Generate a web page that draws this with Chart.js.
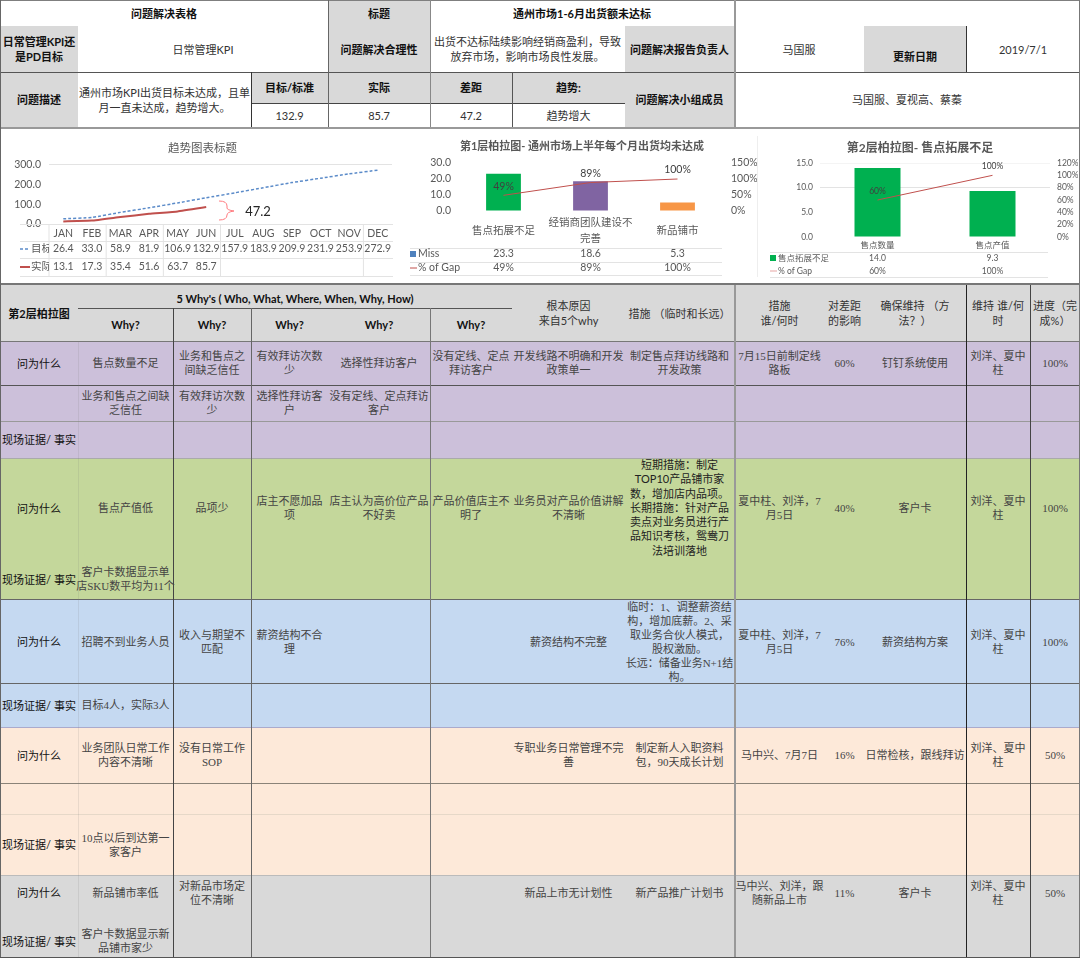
<!DOCTYPE html>
<html lang="zh">
<head>
<meta charset="utf-8">
<title>问题解决表格</title>
<script src="https://cdn.jsdelivr.net/npm/chart.js@4/dist/chart.umd.min.js"></script>
<style>
  html, body { margin: 0; padding: 0; background: #fff; }
  #page { position: relative; width: 1080px; height: 958px; overflow: hidden; background: #fff;
    font-family: "Lato", "Noto Sans CJK SC", sans-serif; color: #333; }
  .cell { position: absolute; display: flex; align-items: center; justify-content: center; text-align: center;
    white-space: pre; font-size: 11px; line-height: 15px; box-sizing: border-box; }
  .cell.b { font-weight: 700; color: #111; }
  .cell.body { font-family: "Liberation Serif", "Noto Sans CJK SC", serif; font-size: 11px; line-height: 14px; color: #444; }
  .cell.dark { color: #222; font-size: 11px; line-height: 14.3px; }
  .cell.side { color: #111; font-size: 11px; }
  .line { position: absolute; }
  canvas { position: absolute; top: 128px; }
</style>
</head>
<body>
<div id="page">
  <canvas id="trend-chart" width="380" height="155" style="left:13px"></canvas>
  <canvas id="pareto1-chart" width="354" height="155" style="left:405px"></canvas>
  <canvas id="pareto2-chart" width="316" height="155" style="left:762px"></canvas>
</div>
<script>
// trend chart
var MONTHS = ['JAN', 'FEB', 'MAR', 'APR', 'MAY', 'JUN', 'JUL', 'AUG', 'SEP', 'OCT', 'NOV', 'DEC'];
var TARGET = [26.4, 33.0, 58.9, 81.9, 106.9, 132.9, 157.9, 183.9, 209.9, 231.9, 253.9, 272.9];
var ACTUAL = [13.1, 17.3, 35.4, 51.6, 63.7, 85.7, null, null, null, null, null, null];

// first pareto
var P1_LABELS = ['售点拓展不足', ['经销商团队建设不', '完善'], '新品铺市'];
var P1_MISS = [23.3, 18.6, 5.3];
var P1_GAP = [49, 89, 100];
var P1_COLORS = ['#00B050', '#8064A2', '#F79646'];

// second pareto
var P2_LABELS = ['售点数量', '售点产值'];
var P2_MISS = [14.0, 9.3];
var P2_GAP = [60, 100];

var CHART_FONT = '"Lato", "Noto Sans CJK SC", sans-serif';
var TEXT_GREY = '#595959';

// grid columns of the lower table
var COLS = [78, 173, 251, 328, 430, 512, 625, 734, 825, 864, 966, 1030, 1080];

var EVIDENCE = '现场证据/ 事实';
var ASK = '问为什么';
var OWNER = '刘洋、夏中\n柱';

var ROW_PURPLE_1 = ['售点数量不足', '业务和售点之\n间缺乏信任', '有效拜访次数\n少', '选择性拜访客户', '没有定线、定点\n拜访客户', '开发线路不明确和开发\n政策单一', '制定售点拜访线路和\n开发政策', '7月15日前制定线\n路板', '60%', '钉钉系统使用', OWNER, '100%'];
var ROW_PURPLE_2 = ['业务和售点之间缺\n乏信任', '有效拜访次数\n少', '选择性拜访客\n户', '没有定线、定点拜访\n客户'];
var ROW_GREEN = ['售点产值低', '品项少', '店主不愿加品\n项', '店主认为高价位产品\n不好卖', '产品价值店主不\n明了', '业务员对产品价值讲解\n不清晰', '', '夏中柱、刘洋，7\n月5日', '40%', '客户卡', OWNER, '100%'];
var ROW_BLUE = ['招聘不到业务人员', '收入与期望不\n匹配', '薪资结构不合\n理', '', '', '薪资结构不完整', '临时：1、调整薪资结\n构，增加底薪。2、采\n取业务合伙人模式，\n股权激励。\n长远：储备业务N+1结\n构。', '夏中柱、刘洋，7\n月5日', '76%', '薪资结构方案', OWNER, '100%'];
var ROW_PEACH = ['业务团队日常工作\n内容不清晰', '没有日常工作\nSOP', '', '', '', '专职业务日常管理不完\n善', '制定新人入职资料\n包，90天成长计划', '马中兴、7月7日', '16%', '日常检核，跟线拜访', OWNER, '50%'];
var ROW_GREY = ['新品铺市率低', '对新品市场定\n位不清晰', '', '', '', '新品上市无计划性', '新产品推广计划书', '马中兴、刘洋，跟\n随新品上市', '11%', '客户卡', OWNER, '50%'];
var GREEN_MEASURE = '短期措施：制定\nTOP10产品铺市家\n数，增加店内品项。\n长期措施：针对产品\n卖点对业务员进行产\n品知识考核，鸳鸯刀\n法培训落地';

var page = document.getElementById('page');

function addBox(x, y, w, h, bg) {
  var d = document.createElement('div');
  d.className = 'cell';
  d.style.cssText = 'left:' + x + 'px;top:' + y + 'px;width:' + w + 'px;height:' + h + 'px;background:' + bg;
  page.appendChild(d);
}

function addText(x0, x1, y0, y1, text, cls) {
  var d = document.createElement('div');
  d.className = 'cell ' + (cls || '');
  d.style.cssText = 'left:' + x0 + 'px;top:' + y0 + 'px;width:' + (x1 - x0) + 'px;height:' + (y1 - y0) + 'px';
  d.textContent = text;
  page.appendChild(d);
}

function hLine(x0, x1, y, color, size) {
  var d = document.createElement('div');
  d.className = 'line';
  d.style.cssText = 'left:' + x0 + 'px;top:' + y + 'px;width:' + (x1 - x0) + 'px;height:' + (size || 1) + 'px;background:' + color;
  page.appendChild(d);
}

function vLine(x, y0, y1, color, size) {
  var d = document.createElement('div');
  d.className = 'line';
  d.style.cssText = 'left:' + x + 'px;top:' + y0 + 'px;height:' + (y1 - y0) + 'px;width:' + (size || 1) + 'px;background:' + color;
  page.appendChild(d);
}

function addRow(cells, y0, y1) {
  cells.forEach(function (text, i) {
    if (text) addText(COLS[i], COLS[i + 1], y0, y1, text, 'body');
  });
}

function buildTopTable() {
  var grey = '#D9D9D9';
  addBox(328, 0, 102, 72, grey);
  addBox(0, 26, 78, 46, grey);
  addBox(625, 26, 109, 46, grey);
  addBox(864, 26, 102, 46, grey);
  addBox(0, 72, 78, 55, grey);
  addBox(251, 72, 374, 31, grey);
  addBox(625, 72, 109, 55, grey);

  addText(0, 328, 0, 27, '问题解决表格', 'b');
  addText(328, 430, 0, 27, '标题', 'b');
  addText(430, 734, 0, 27, '通州市场1-6月出货额未达标', 'b');
  addText(0, 78, 26, 72, '日常管理KPI还\n是PD目标', 'b');
  addText(78, 328, 26, 72, '日常管理KPI');
  addText(328, 430, 26, 72, '问题解决合理性', 'b');
  addText(430, 625, 26, 72, '出货不达标陆续影响经销商盈利，导致\n放弃市场，影响市场良性发展。');
  addText(625, 734, 26, 72, '问题解决报告负责人', 'b');
  addText(734, 864, 26, 72, '马国服');
  addText(864, 966, 40, 72, '更新日期', 'b');
  addText(966, 1080, 26, 72, '2019/7/1');
  addText(0, 78, 72, 127, '问题描述', 'b');
  addText(78, 251, 72, 127, '通州市场KPI出货目标未达成，且单\n月一直未达成，趋势增大。');
  addText(251, 328, 72, 103, '目标/标准', 'b');
  addText(328, 430, 72, 103, '实际', 'b');
  addText(430, 512, 72, 103, '差距', 'b');
  addText(512, 625, 72, 103, '趋势:', 'b');
  addText(251, 328, 103, 127, '132.9');
  addText(328, 430, 103, 127, '85.7');
  addText(430, 512, 103, 127, '47.2');
  addText(512, 625, 103, 127, '趋势增大');
  addText(625, 734, 72, 127, '问题解决小组成员', 'b');
  addText(734, 1080, 72, 127, '马国服、夏视高、蔡蓁');

  hLine(0, 1080, 0, '#7f7f7f');
  hLine(0, 1080, 72, '#555');
  hLine(251, 625, 103, '#444');
  hLine(0, 1080, 127, '#999', 2);
  hLine(0, 1080, 283, '#777', 2);
  vLine(0, 0, 957, '#666');
  vLine(328, 0, 127, '#666');
  vLine(430, 0, 127, '#888');
  vLine(251, 72, 127, '#333');
  vLine(512, 72, 127, '#555');
  vLine(734, 0, 127, '#999', 2);
  vLine(966, 26, 72, '#333');
  vLine(1079, 0, 957, '#777');
  vLine(757, 136, 277, '#eee');
}

function buildLowerTable() {
  addBox(0, 285, 1080, 56, '#D9D9D9');
  addBox(0, 341, 1080, 117, '#CCC0DA');
  addBox(0, 458, 1080, 142, '#C4D79B');
  addBox(0, 600, 1080, 127, '#C5D9F1');
  addBox(0, 727, 1080, 148, '#FDE9D9');
  addBox(0, 875, 1080, 83, '#D9D9D9');

  addText(0, 78, 285, 341, '第2层柏拉图', 'b');
  addText(78, 512, 289, 308, "5 Why's ( Who, What, Where, When, Why, How)", 'b');
  [[78, 173], [173, 251], [251, 328], [328, 430], [430, 512]].forEach(function (c) {
    addText(c[0], c[1], 308, 341, 'Why?', 'b');
  });
  addText(512, 625, 285, 341, '根本原因\n来自5个why');
  addText(625, 734, 285, 341, '措施 （临时和长远）');
  addText(734, 825, 285, 341, '措施\n谁/何时');
  addText(825, 864, 285, 341, '对差距\n的影响');
  addText(864, 966, 285, 341, '确保维持 （方\n法？）');
  addText(966, 1030, 285, 341, '维持 谁/何\n时');
  addText(1030, 1080, 285, 341, '进度（完\n成%）');

  addText(0, 78, 341, 385, ASK, 'side');
  addRow(ROW_PURPLE_1, 341, 385);
  addRow(ROW_PURPLE_2, 385, 421);
  addText(0, 78, 421, 458, EVIDENCE, 'side');

  addText(0, 78, 458, 558, ASK, 'side');
  addRow(ROW_GREEN, 458, 558);
  addText(625, 734, 458, 558, GREEN_MEASURE, 'dark');
  addText(0, 78, 558, 600, EVIDENCE, 'side');
  addText(78, 173, 558, 600, '客户卡数据显示单\n店SKU数平均为11个', 'body');

  addText(0, 78, 600, 683, ASK, 'side');
  addRow(ROW_BLUE, 600, 683);
  addText(0, 78, 683, 727, EVIDENCE, 'side');
  addText(78, 173, 683, 727, '目标4人，实际3人', 'body');

  addText(0, 78, 727, 783, ASK, 'side');
  addRow(ROW_PEACH, 727, 783);
  addText(0, 78, 814, 875, EVIDENCE, 'side');
  addText(78, 173, 814, 875, '10点以后到达第一\n家客户', 'body');

  addText(0, 78, 875, 910, ASK, 'side');
  addRow(ROW_GREY, 875, 910);
  addText(0, 78, 925, 957, EVIDENCE, 'side');
  addText(78, 173, 925, 957, '客户卡数据显示新\n品铺市家少', 'body');

  hLine(0, 1080, 341, '#777');
  hLine(0, 1080, 385, '#555');
  hLine(0, 1080, 421, '#999');
  hLine(0, 1080, 458, '#aaa');
  hLine(0, 1080, 599, '#666');
  hLine(0, 1080, 683, '#666');
  hLine(0, 1080, 727, '#aac');
  hLine(0, 1080, 783, '#8a8378');
  hLine(0, 1080, 814, '#e6d8c8');
  hLine(0, 1080, 875, '#bbb');
  hLine(0, 1080, 957, '#555');
  hLine(78, 512, 308, '#555');

  vLine(78, 341, 957, 'rgba(120,120,120,0.15)');
  vLine(173, 308, 957, '#444');
  vLine(251, 308, 957, '#666');
  vLine(430, 308, 957, '#777');
  vLine(734, 285, 957, '#999', 2);
  vLine(966, 285, 957, '#222');
  vLine(1030, 285, 957, '#444');
}

// draws the little data table that sits under each chart
var dataTablePlugin = {
  id: 'dataTable',
  afterDraw: function (chart, args, opts) {
    var ctx = chart.ctx;
    var x = chart.scales.x;
    ctx.save();
    ctx.strokeStyle = '#e3e3e3';
    ctx.lineWidth = 1;
    opts.lines.forEach(function (y) {
      ctx.beginPath();
      ctx.moveTo(opts.left, y + 0.5);
      ctx.lineTo(opts.right, y + 0.5);
      ctx.stroke();
    });
    (opts.dividers || []).forEach(function (n) {
      var px = x.left + (x.right - x.left) * n / chart.data.labels.length;
      ctx.beginPath();
      ctx.moveTo(px, opts.lines[0]);
      ctx.lineTo(px, opts.lines[opts.lines.length - 1]);
      ctx.stroke();
    });
    ctx.font = opts.fontSize + 'px ' + CHART_FONT;
    ctx.textBaseline = 'middle';
    opts.rows.forEach(function (row) {
      ctx.fillStyle = row.color;
      ctx.strokeStyle = row.color;
      if (row.key === 'box') {
        ctx.fillRect(opts.left, row.y - 3, 6, 6);
      } else {
        ctx.lineWidth = row.width;
        ctx.setLineDash(row.key === 'dash' ? [3, 2] : []);
        ctx.beginPath();
        ctx.moveTo(opts.left, row.y);
        ctx.lineTo(opts.labelX - 1, row.y);
        ctx.stroke();
        ctx.setLineDash([]);
      }
      ctx.fillStyle = TEXT_GREY;
      ctx.textAlign = 'left';
      ctx.save();
      // the series name gets cut off at the first table column, like in the sheet
      if (opts.clipLabels) {
        ctx.beginPath();
        ctx.rect(0, row.y - 10, x.left, 20);
        ctx.clip();
      }
      ctx.fillText(row.label, opts.labelX, row.y);
      ctx.restore();
      ctx.textAlign = 'center';
      row.values.forEach(function (v, i) {
        if (v !== null) ctx.fillText(row.format(v), x.getPixelForTick(i), row.y);
      });
    });
    ctx.restore();
  },
};

// percentage above each point of the gap line
var gapLabelPlugin = {
  id: 'gapLabels',
  afterDatasetsDraw: function (chart, args, opts) {
    if (!opts.size) return;
    var ctx = chart.ctx;
    var idx = chart.data.datasets.findIndex(function (d) { return d.type === 'line'; });
    ctx.save();
    ctx.font = opts.size + 'px ' + CHART_FONT;
    ctx.fillStyle = '#404040';
    ctx.textAlign = 'center';
    ctx.textBaseline = 'middle';
    chart.getDatasetMeta(idx).data.forEach(function (pt, i) {
      ctx.fillText(chart.data.datasets[idx].data[i] + '%', pt.x, pt.y - 9);
    });
    ctx.restore();
  },
};

// curly bracket with the gap value, next to the trend lines
var gapNotePlugin = {
  id: 'gapNote',
  afterDraw: function (chart, args, opts) {
    if (!opts.text) return;
    var ctx = chart.ctx;
    ctx.save();
    ctx.strokeStyle = '#FF7C80';
    ctx.lineWidth = 1;
    ctx.beginPath();
    ctx.moveTo(206, 73);
    ctx.quadraticCurveTo(214, 73, 214, 78);
    ctx.lineTo(214, 80);
    ctx.quadraticCurveTo(214, 82, 221, 83);
    ctx.quadraticCurveTo(214, 84, 214, 87);
    ctx.lineTo(214, 87);
    ctx.quadraticCurveTo(214, 92, 206, 92);
    ctx.stroke();
    ctx.fillStyle = '#262626';
    ctx.font = '13px ' + CHART_FONT;
    ctx.textAlign = 'center';
    ctx.textBaseline = 'middle';
    ctx.fillText(opts.text, 245, 84);
    ctx.restore();
  },
};

function fixedWidth(w) { return function (scale) { scale.width = w; }; }
function fixedHeight(h) { return function (scale) { scale.height = h; }; }
function pct(v) { return v + '%'; }

function titleOpts(text, size, weight, top, bottom) {
  return {
    display: true,
    text: text,
    color: TEXT_GREY,
    font: { size: size, weight: weight, family: CHART_FONT },
    padding: { top: top, bottom: bottom },
  };
}

function renderTrendChart() {
  var ctx = document.getElementById('trend-chart').getContext('2d');
  new Chart(ctx, {
    type: 'line',
    plugins: [dataTablePlugin, gapNotePlugin],
    data: {
      labels: MONTHS,
      datasets: [
        { label: '目标', data: TARGET, borderColor: '#5B8BC9', borderWidth: 1.5, borderDash: [3, 2], pointRadius: 0, tension: 0.1 },
        { label: '实际', data: ACTUAL, borderColor: '#C0504D', borderWidth: 2, pointRadius: 0, tension: 0.1 },
      ],
    },
    options: {
      responsive: false,
      animation: false,
      layout: { padding: { right: 1 } },
      scales: {
        x: {
          offset: true,
          grid: { display: false, drawTicks: false },
          border: { display: false },
          ticks: { color: TEXT_GREY, padding: 3, font: { size: 10.5, family: CHART_FONT }, maxRotation: 0, autoSkip: false },
          afterFit: fixedHeight(59),
        },
        y: {
          min: 0,
          max: 300,
          border: { display: false },
          grid: {
            drawTicks: false,
            color: function (c) { return c.tick.value === 300 ? '#e3e3e3' : 'transparent'; },
          },
          ticks: {
            stepSize: 100,
            padding: 8,
            color: TEXT_GREY,
            font: { size: 10.5, family: CHART_FONT },
            callback: function (v) { return v.toFixed(1); },
          },
          afterFit: fixedWidth(36),
        },
      },
      plugins: {
        legend: { display: false },
        tooltip: { enabled: false },
        title: titleOpts('趋势图表标题', 11.5, 400, 13, 10),
        gapNote: { text: '47.2' },
        dataTable: {
          left: 7,
          right: 380,
          labelX: 18,
          fontSize: 10.5,
          clipLabels: true,
          lines: [96, 113, 130, 148],
          dividers: [0, 2, 4, 6, 11],
          rows: [
            { label: '目标', key: 'dash', color: '#5B8BC9', width: 1.5, y: 121, values: TARGET, format: function (v) { return v.toFixed(1); } },
            { label: '实际', key: 'line', color: '#C0504D', width: 2, y: 139, values: ACTUAL, format: function (v) { return v.toFixed(1); } },
          ],
        },
      },
    },
  });
}

function renderParetoChart(id, cfg) {
  var ctx = document.getElementById(id).getContext('2d');
  new Chart(ctx, {
    type: 'bar',
    plugins: [dataTablePlugin, gapLabelPlugin],
    data: {
      labels: cfg.labels,
      datasets: [
        { type: 'line', label: '% of Gap', data: cfg.gap, yAxisID: 'y1', borderColor: '#C0504D', borderWidth: 1, pointRadius: 0, order: 0 },
        { type: 'bar', label: cfg.missLabel, data: cfg.miss, yAxisID: 'y', backgroundColor: cfg.colors, barPercentage: 0.4, categoryPercentage: 1, order: 1 },
      ],
    },
    options: {
      responsive: false,
      animation: false,
      scales: {
        x: {
          grid: { display: false },
          border: { display: false },
          ticks: {
            color: TEXT_GREY,
            padding: cfg.tickPadding,
            crossAlign: 'center',
            maxRotation: 0,
            autoSkip: false,
            font: { size: cfg.labelSize, lineHeight: 1.5, family: CHART_FONT },
          },
          afterFit: fixedHeight(cfg.axisHeight),
        },
        y: {
          min: 0,
          max: cfg.yMax,
          border: { display: false },
          grid: {
            drawTicks: false,
            color: function (c) { return cfg.gridOn ? (c.tick.value === 10 ? '#e3e3e3' : c.tick.value === 15 ? '#f4f4f4' : 'transparent') : 'transparent'; },
          },
          ticks: {
            stepSize: cfg.yStep,
            autoSkip: false,
            padding: cfg.leftPadding,
            color: TEXT_GREY,
            font: { size: cfg.axisSize, family: CHART_FONT },
            callback: function (v) { return v.toFixed(1); },
          },
          afterFit: fixedWidth(cfg.leftWidth),
        },
        y1: {
          position: 'right',
          min: 0,
          max: cfg.gapMax,
          border: { display: false },
          grid: { display: false, drawTicks: false },
          ticks: {
            stepSize: cfg.gapStep,
            autoSkip: false,
            padding: cfg.rightPadding,
            color: TEXT_GREY,
            font: { size: cfg.axisSize, family: CHART_FONT },
            callback: pct,
          },
          afterFit: fixedWidth(cfg.rightWidth),
        },
      },
      plugins: {
        legend: { display: false },
        tooltip: { enabled: false },
        title: titleOpts(cfg.title, cfg.titleSize, 700, cfg.titleTop, cfg.titleBottom),
        gapLabels: { size: cfg.axisSize },
        dataTable: cfg.table,
      },
    },
  });
}

buildLowerTable();
buildTopTable();
renderTrendChart();

renderParetoChart('pareto1-chart', {
  title: '第1层柏拉图- 通州市场上半年每个月出货均未达成',
  titleSize: 11,
  titleTop: 12,
  titleBottom: 9.8,
  labels: P1_LABELS,
  miss: P1_MISS,
  gap: P1_GAP,
  colors: P1_COLORS,
  missLabel: 'Miss',
  yMax: 30,
  yStep: 10,
  gapMax: 150,
  gapStep: 50,
  axisSize: 10.5,
  labelSize: 10.5,
  tickPadding: 4,
  axisHeight: 72,
  leftWidth: 55,
  rightWidth: 38,
  leftPadding: 9,
  rightPadding: 10,
  gridOn: false,
  table: {
    left: 5,
    right: 317,
    labelX: 13,
    fontSize: 10.5,
    lines: [120, 134, 147],
    rows: [
      { label: 'Miss', key: 'box', color: '#4F81BD', width: 1, y: 126, values: P1_MISS, format: function (v) { return v.toFixed(1); } },
      { label: '% of Gap', key: 'line', color: '#C0504D', width: 1, y: 140, values: P1_GAP, format: pct },
    ],
  },
});

renderParetoChart('pareto2-chart', {
  title: '第2层柏拉图- 售点拓展不足',
  titleSize: 12,
  titleTop: 13,
  titleBottom: 7.6,
  labels: P2_LABELS,
  miss: P2_MISS,
  gap: P2_GAP,
  colors: ['#00B050', '#00B050'],
  missLabel: '售点拓展不足',
  yMax: 15,
  yStep: 5,
  gapMax: 120,
  gapStep: 20,
  axisSize: 8.5,
  labelSize: 8.5,
  tickPadding: 0,
  axisHeight: 46,
  leftWidth: 58,
  rightWidth: 28,
  leftPadding: 7,
  rightPadding: 7,
  gridOn: true,
  table: {
    left: 8,
    right: 286,
    labelX: 16,
    fontSize: 8.5,
    lines: [124, 149],
    rows: [
      { label: '售点拓展不足', key: 'box', color: '#00B050', width: 1, y: 130, values: P2_MISS, format: function (v) { return v.toFixed(1); } },
      { label: '% of Gap', key: 'line', color: '#E6A5A3', width: 1, y: 143, values: P2_GAP, format: pct },
    ],
  },
});
</script>
</body>
</html>
